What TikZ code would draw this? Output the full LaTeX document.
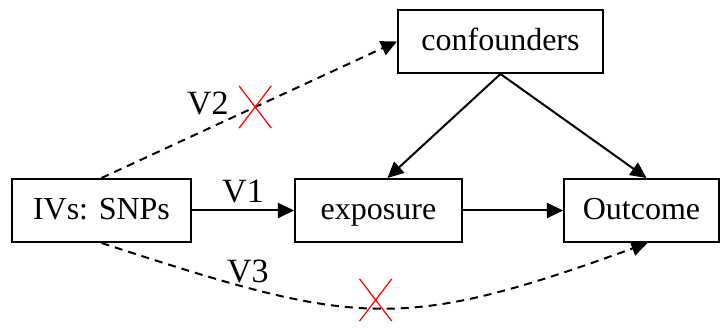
\documentclass[tikz,border=0pt]{standalone}
\usepackage{fontspec}
\setmainfont{Liberation Serif}
\usetikzlibrary{arrows.meta,positioning,shapes.misc}

\begin{document}
\begin{tikzpicture}[x=0.5pt, y=0.5pt, node distance=51pt,
	box/.style={draw, line width=1pt, minimum height=31.5pt, inner sep=2pt, text height=12pt, text depth=3pt, font=\fontsize{16}{19}\selectfont},
	lab/.style={font=\fontsize{17}{20}\selectfont, inner sep=1pt},
	edge/.style={line width=1pt, -{Triangle[length=8pt,width=7.5pt]}},
	dashline/.style={dash pattern=on 4pt off 3pt},
	cut/.style={cross out, draw=red, solid, line width=0.6pt, minimum width=15.5pt, minimum height=20.5pt, inner sep=0pt}]
	\useasboundingbox (0,0) rectangle (720,-331);
	% main row
	\node[box, minimum width=89.5pt] (ivs) at (101.5,-210.5) {IVs: SNPs};
	\node[box, minimum width=83.5pt, right=51pt of ivs] (exp) {exposure};
	\node[box, minimum width=77.5pt, right=50pt of exp] (out) {Outcome};
	% confounders on top
	\node[box, minimum width=102.5pt] (conf) at (500.5,-41.5) {confounders};
	% paths
	\draw[edge] (ivs) -- node[lab, above=2pt] (v1) {V1} (exp);
	\draw[edge] (exp) -- (out);
	\draw[edge] (conf.south) -- ([xshift=4.5pt]exp.north);
	\draw[edge] (conf.south) -- ([xshift=2.5pt]out.north);
	% violated assumptions
	\draw[edge, dashline] (ivs.north) -- node[pos=0.52, cut] (x2) {} (conf.west);
	\node[lab, left=4pt of x2, yshift=2pt] (v2) {V2};
	\draw[edge, dashline] (ivs.south) to[out=-18, in=200, looseness=1.25]
		node[pos=0.5, cut, yshift=4pt] (x3) {}
		node[pos=0.23, lab, above=1pt] (v3) {V3} ([xshift=3pt]out.south);
\end{tikzpicture}
\end{document}
